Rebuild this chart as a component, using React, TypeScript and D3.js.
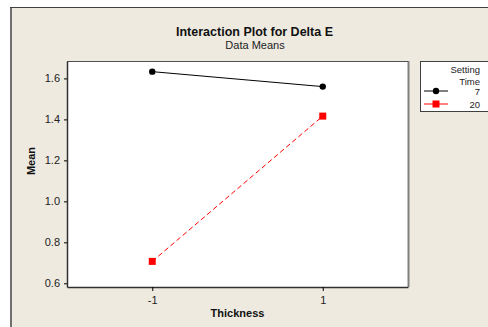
import React, { useEffect, useRef } from 'react';
import * as d3 from 'd3';

// chart values
const thicknessLevels = [-1, 1];
const settingTimes = ['7', '20'];
const meansTime7 = [1.633, 1.56];
const meansTime20 = [0.707, 1.416];
const yTicks = [0.6, 0.8, 1.0, 1.2, 1.4, 1.6];
const seriesColors = ['#000000', '#ff0000'];

const width = 488;
const height = 327;
const bg = '#eeeae0';
const font = '"Liberation Sans", Arial, sans-serif';

const margins = { top: 61, bottom: 40, left: 67, right: 80 };

export default function App() {
  const svgRef = useRef<SVGSVGElement>(null);

  useEffect(() => {
    const svg = d3.select(svgRef.current);
    svg.selectAll('*').remove();

    // outer frame
    svg.append('rect').attr('width', width).attr('height', height).attr('fill', '#ffffff');
    svg.append('rect').attr('x', 11).attr('y', 8).attr('width', width).attr('height', height).attr('fill', bg);
    svg.append('line').attr('x1', 11).attr('x2', 11).attr('y1', 7).attr('y2', height)
      .attr('stroke', '#707070').attr('stroke-width', 2);
    svg.append('line').attr('x1', 10).attr('x2', width).attr('y1', 7.5).attr('y2', 7.5)
      .attr('stroke', '#404040').attr('stroke-width', 1);

    const innerW = width - margins.left - margins.right;
    const innerH = height - margins.top - margins.bottom;

    const x = d3.scaleLinear().domain([-2, 2]).range([0, innerW]);
    const y = d3.scaleLinear().domain([0.582, 1.685]).range([innerH, 0]);

    const g = svg.append('g').attr('transform', `translate(${margins.left},${margins.top})`);

    // data area
    g.append('rect').attr('width', innerW).attr('height', innerH).attr('fill', '#ffffff');
    g.append('line').attr('x1', innerW + 0.5).attr('x2', innerW + 0.5).attr('y1', 0).attr('y2', innerH)
      .attr('stroke', '#808080').attr('stroke-width', 2);
    g.append('line').attr('x1', 0).attr('x2', innerW).attr('y1', 0.5).attr('y2', 0.5)
      .attr('stroke', '#505050');

    // axes
    const yAxis = d3.axisLeft(y).tickValues(yTicks).tickFormat(d3.format('.1f')).tickSize(3).tickSizeOuter(0);
    const gy = g.append('g').call(yAxis);
    gy.select('.domain').attr('stroke', '#303030').attr('stroke-width', 1.5);
    gy.selectAll('text').attr('font-family', font).attr('font-size', 11).attr('fill', '#222').attr('dx', -1);

    // plain hyphen for the minus sign, as in the original
    const xAxis = d3.axisBottom(x).tickValues(thicknessLevels).tickFormat(d => String(d)).tickSize(4).tickSizeOuter(0);
    const gx = g.append('g').attr('transform', `translate(0,${innerH})`).call(xAxis);
    gx.select('.domain').attr('stroke', '#303030').attr('stroke-width', 1.5);
    gx.selectAll('text').attr('font-family', font).attr('font-size', 11).attr('fill', '#222').attr('dy', '0.9em');

    // series
    const series = [meansTime7, meansTime20];
    const line = d3.line<number>().x((_, i) => x(thicknessLevels[i])).y(d => y(d));
    series.forEach((values, s) => {
      g.append('path')
        .attr('d', line(values))
        .attr('fill', 'none')
        .attr('stroke', seriesColors[s])
        .attr('stroke-width', 1)
        .attr('stroke-dasharray', s === 1 ? '5,3' : null);
      values.forEach((v, i) => {
        if (s === 0) {
          g.append('circle').attr('cx', x(thicknessLevels[i])).attr('cy', y(v)).attr('r', 3.2).attr('fill', seriesColors[s]);
        } else {
          g.append('rect').attr('x', x(thicknessLevels[i]) - 3.5).attr('y', y(v) - 3.5)
            .attr('width', 7).attr('height', 7).attr('fill', seriesColors[s]);
        }
      });
    });

    // titles
    svg.append('text').attr('x', 254.5).attr('y', 36).attr('text-anchor', 'middle')
      .attr('font-family', font).attr('font-weight', 'bold').attr('font-size', 12.5).attr('fill', '#111')
      .text('Interaction Plot for Delta E');
    svg.append('text').attr('x', 255).attr('y', 49).attr('text-anchor', 'middle')
      .attr('font-family', font).attr('font-size', 11).attr('fill', '#222')
      .text('Data Means');
    svg.append('text').attr('x', margins.left + innerW / 2).attr('y', 317).attr('text-anchor', 'middle')
      .attr('font-family', font).attr('font-weight', 'bold').attr('font-size', 11).attr('fill', '#111')
      .text('Thickness');
    svg.append('text').attr('transform', 'translate(35,161) rotate(-90)').attr('text-anchor', 'middle')
      .attr('font-family', font).attr('font-weight', 'bold').attr('font-size', 11).attr('fill', '#111')
      .text('Mean');

    // legend
    const lg = svg.append('g').attr('transform', 'translate(420,61)');
    lg.append('rect').attr('x', 0.5).attr('y', 0.5).attr('width', 80).attr('height', 50)
      .attr('fill', '#ffffff').attr('stroke', '#404040');
    ['Setting', 'Time'].forEach((t, i) => {
      lg.append('text').attr('x', 60).attr('y', 12 + i * 11.5).attr('text-anchor', 'end')
        .attr('font-family', font).attr('font-size', 9.5).attr('fill', '#222').text(t);
    });
    settingTimes.forEach((t, i) => {
      const ly = 30 + i * 13;
      lg.append('line').attr('x1', 4).attr('x2', 28).attr('y1', ly).attr('y2', ly)
        .attr('stroke', seriesColors[i]).attr('stroke-width', 1);
      if (i === 0) {
        lg.append('circle').attr('cx', 16).attr('cy', ly).attr('r', 3.2).attr('fill', seriesColors[i]);
      } else {
        lg.append('rect').attr('x', 12.5).attr('y', ly - 3.5).attr('width', 7).attr('height', 7).attr('fill', seriesColors[i]);
      }
      lg.append('text').attr('x', 60).attr('y', ly + 4).attr('text-anchor', 'end')
        .attr('font-family', font).attr('font-size', 9.5).attr('fill', '#222').text(t);
    });
  }, []);

  return (
    <svg
      ref={svgRef}
      width={width}
      height={height}
      style={{ position: 'absolute', left: 0, top: 0, display: 'block' }}
    />
  );
}
